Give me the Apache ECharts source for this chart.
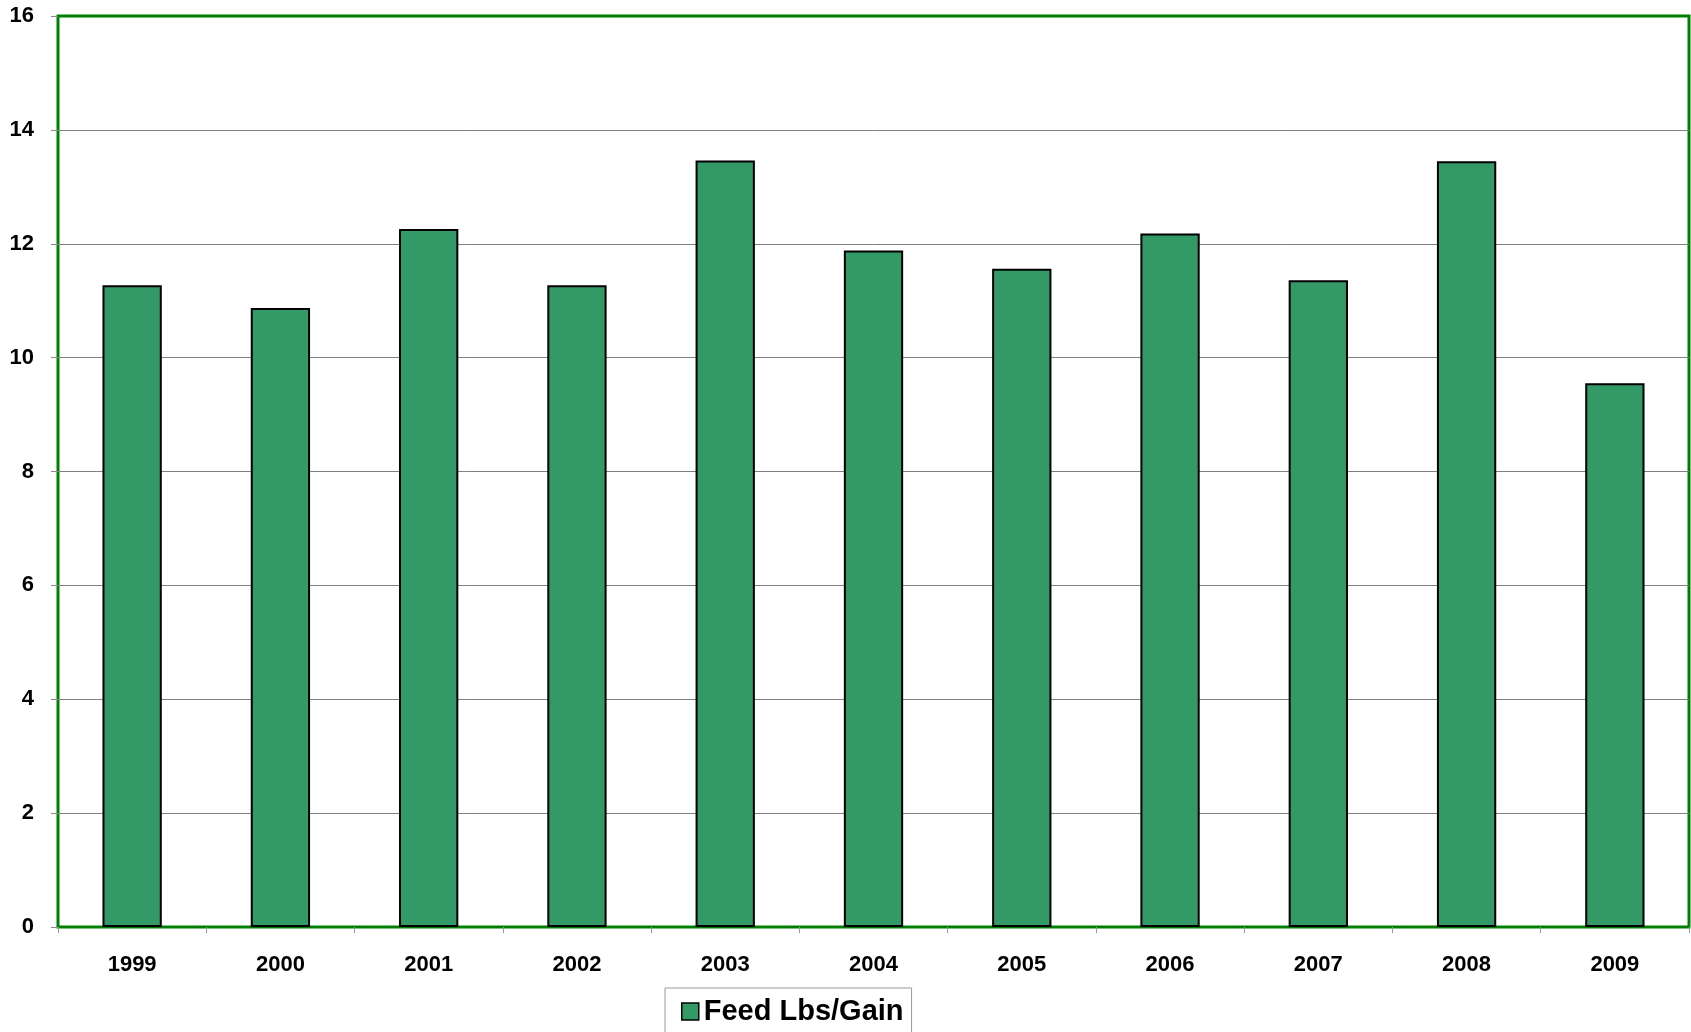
<!DOCTYPE html>
<html>
<head>
<meta charset="utf-8">
<script src="https://cdn.jsdelivr.net/npm/echarts@6/dist/echarts.min.js"></script>
<style>
  html, body { margin: 0; padding: 0; background: #fff; }
  #chart { width: 1691px; height: 1032px; }
</style>
</head>
<body>
<div id="chart"></div>
<script>
// data
var years = ['1999', '2000', '2001', '2002', '2003', '2004', '2005', '2006', '2007', '2008', '2009'];
var feedPerGain = [11.27, 10.87, 12.26, 11.27, 13.46, 11.88, 11.56, 12.18, 11.36, 13.45, 9.55];
var seriesName = 'Feed Lbs/Gain';

var chart = echarts.init(document.getElementById('chart'), null, { renderer: 'canvas' });

var font = 'Liberation Sans, Arial, sans-serif';

chart.setOption({
  animation: false,
  backgroundColor: '#ffffff',
  grid: {
    left: 58,
    right: 2,
    top: 16,
    bottom: 105,
    show: true,
    borderColor: '#008000',
    borderWidth: 3
  },
  legend: {
    data: [seriesName],
    left: 665,
    top: 988,
    icon: 'rect',
    itemWidth: 17,
    itemHeight: 17,
    padding: [9, 8, 9, 16],
    borderColor: '#9a9a9a',
    borderWidth: 1,
    itemStyle: { borderColor: '#000', borderWidth: 1.5 },
    textStyle: { fontFamily: font, fontWeight: 'bold', fontSize: 29, color: '#000' }
  },
  xAxis: {
    type: 'category',
    data: years,
    axisLine: { lineStyle: { color: '#008000', width: 2 } },
    axisTick: { show: true, length: 6, lineStyle: { color: '#999' } },
    axisLabel: { color: '#000', fontFamily: font, fontWeight: 'bold', fontSize: 22, margin: 27 }
  },
  yAxis: {
    type: 'value',
    min: 0,
    max: 16,
    interval: 2,
    axisLine: { show: false },
    axisTick: { show: true, length: 7, lineStyle: { color: '#888' } },
    axisLabel: { color: '#000', fontFamily: font, fontWeight: 'bold', fontSize: 22, margin: 24 },
    splitLine: { show: true, showMinLine: false, showMaxLine: false, lineStyle: { color: '#808080', width: 1 } }
  },
  series: [
    {
      name: seriesName,
      type: 'bar',
      data: feedPerGain,
      barWidth: '40%',
      itemStyle: { color: '#339966', borderColor: '#000', borderWidth: 2 }
    }
  ]
});
</script>
</body>
</html>
